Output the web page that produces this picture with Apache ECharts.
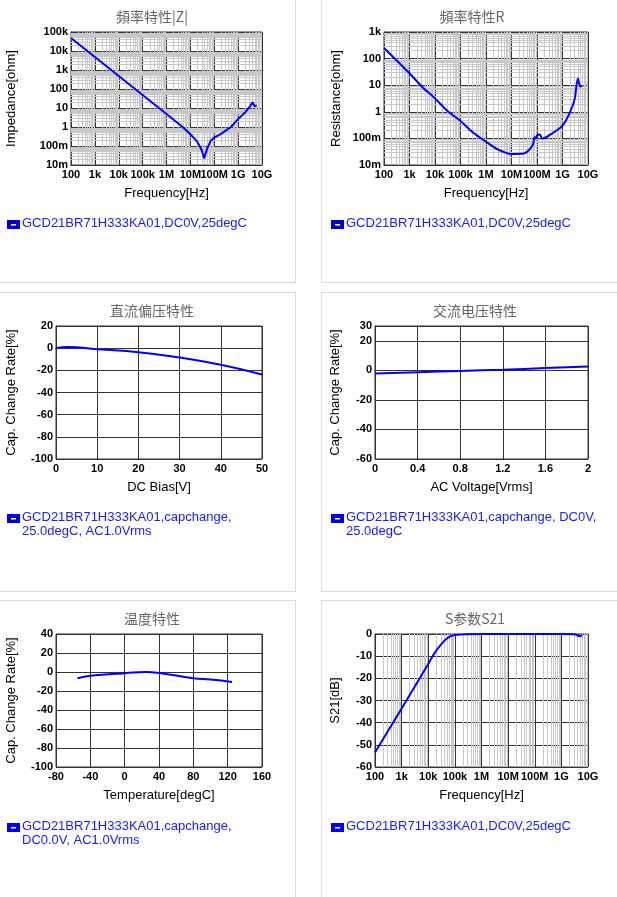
<!DOCTYPE html>
<html lang="zh">
<head>
<meta charset="UTF-8">
<title>GCD21BR71H333KA01</title>
<script src="https://cdn.jsdelivr.net/npm/echarts@6/dist/echarts.min.js"></script>
<style>
  body { margin: 0; background: #fff; font-family: Arial, "Liberation Sans", sans-serif; }
  .box { position: absolute; border: 1px solid #ddd; }
  #main { position: absolute; left: 0; top: 0; width: 617px; height: 897px; }
</style>
</head>
<body>
<div class="box" style="left:-2px;top:-2px;width:296px;height:283px"></div>
<div class="box" style="left:321px;top:-2px;width:300px;height:283px"></div>
<div class="box" style="left:-2px;top:292px;width:296px;height:298px"></div>
<div class="box" style="left:321px;top:292px;width:300px;height:298px"></div>
<div class="box" style="left:-2px;top:600px;width:296px;height:300px"></div>
<div class="box" style="left:321px;top:600px;width:300px;height:300px"></div>
<div id="main"></div>
<script>
  // 頻率特性 |Z|
  var zFreq = [100, 1e3, 1e4, 1e5, 1e6, 5e6, 1e7, 2e7, 3e7, 3.8e7, 5e7, 7e7, 1e8, 2e8, 5e8, 1e9, 2e9, 3e9, 4e9, 5e9, 6e9];
  var zVal  = [48000, 4800, 480, 48, 4.8, 0.95, 0.42, 0.16, 0.06, 0.022, 0.07, 0.18, 0.28, 0.45, 1.0, 2.6, 6, 11, 20, 12, 14];
  // 頻率特性 R
  var rFreq = [100, 1e3, 3e3, 1e4, 3e4, 1e5, 3e5, 1e6, 3e6, 1e7, 3e7, 5e7, 7e7, 8e7, 9e7, 1e8, 1.3e8, 1.6e8, 3e8, 1e9, 2e9, 3e9, 4e9, 5e9, 6e9];
  var rVal  = [250, 28, 9, 3.2, 1.1, 0.45, 0.17, 0.075, 0.038, 0.026, 0.027, 0.038, 0.06, 0.11, 0.1, 0.13, 0.14, 0.1, 0.13, 0.3, 1, 3, 18, 9, 9.5];
  // 直流偏压特性
  var dcBias = [0, 3, 10, 20, 30, 40, 50];
  var dcRate = [0.2, 1, -1, -3.6, -8.4, -15, -23.8];
  // 交流电压特性
  var acVolt = [0, 0.4, 0.8, 1.2, 1.6, 2];
  var acRate = [-2.2, -1.3, -0.4, 0.4, 1.5, 2.6];
  // 温度特性
  var temps    = [-55, -40, 0, 25, 40, 80, 100, 125];
  var tempRate = [-6.5, -4, -1.3, 0, -1, -6.5, -8, -10.5];
  // S参数S21
  var sFreq = [100, 1e3, 1e4, 2e4, 5e4, 1e5, 1e6, 1e8, 1e9, 3e9, 5e9, 6e9];
  var sVal  = [-53.5, -33.6, -13.5, -7.5, -2, -0.5, 0, 0, 0, -0.1, -1, -0.5];

  var legend1 = 'GCD21BR71H333KA01,DC0V,25degC';
  var legendDc = ['GCD21BR71H333KA01,capchange,', '25.0degC, AC1.0Vrms'];
  var legendAc = ['GCD21BR71H333KA01,capchange, DC0V,', '25.0degC'];
  var legendT = ['GCD21BR71H333KA01,capchange,', 'DC0.0V, AC1.0Vrms'];

  function pairs(xs, ys) { return xs.map(function (x, i) { return [x, ys[i]]; }); }

  function logLabel(v) {
    var map = {1e-2: '10m', 1e-1: '100m', 1: '1', 10: '10', 100: '100', 1e3: '1k', 1e4: '10k', 1e5: '100k',
      1e6: '1M', 1e7: '10M', 1e8: '100M', 1e9: '1G', 1e10: '10G'};
    for (var k in map) { if (Math.abs(Math.log10(v) - Math.log10(+k)) < 1e-6) return map[k]; }
    return '';
  }

  // minor grid lines for log axes: 2..9 in every decade
  function minorLines(axis, lo, hi) {
    var out = [];
    for (var d = lo; d < hi; d *= 10) {
      for (var m = 2; m <= 9; m++) { var o = {}; o[axis] = d * m; out.push(o); }
    }
    return out;
  }

  var labelStyle = { color: '#000', fontSize: 11, fontWeight: 'bold', fontFamily: 'Arial' };
  var nameStyle = { color: '#000', fontSize: 13, fontFamily: 'Arial' };
  var split = { show: true, lineStyle: { color: '#333', width: 1 } };

  function xAx(i, opt) {
    return Object.assign({
      gridIndex: i, nameLocation: 'middle', nameGap: 22, nameTextStyle: nameStyle,
      axisLabel: Object.assign({ margin: 4 }, labelStyle), axisTick: { show: false },
      axisLine: { lineStyle: { color: '#333' } }, splitLine: split
    }, opt);
  }
  function yAx(i, opt) {
    return Object.assign({
      gridIndex: i, nameLocation: 'middle', nameTextStyle: nameStyle,
      axisLabel: Object.assign({ margin: 3 }, labelStyle), axisTick: { show: false },
      axisLine: { show: true, lineStyle: { color: '#333' } }, splitLine: split
    }, opt);
  }
  function line(i, data, extra) {
    return Object.assign({
      type: 'line', xAxisIndex: i, yAxisIndex: i, data: data, showSymbol: false,
      lineStyle: { color: '#0000ff', width: 2 }, itemStyle: { color: '#0000ff' }, z: 5
    }, extra || {});
  }
  function minorSeries(i, xLo, xHi, yLo, yHi) {
    var d = minorLines('xAxis', xLo, xHi);
    if (yLo) d = d.concat(minorLines('yAxis', yLo, yHi));
    return {
      type: 'line', xAxisIndex: i, yAxisIndex: i, data: [], silent: true, z: 1,
      markLine: { symbol: 'none', silent: true, label: { show: false }, animation: false,
        lineStyle: { color: '#c8c8c8', width: 1, type: 'solid' }, data: d }
    };
  }

  var grids = [
    { left: 71, top: 32, width: 191, height: 133 },
    { left: 384, top: 32, width: 204, height: 133 },
    { left: 56, top: 326, width: 206, height: 133 },
    { left: 375, top: 326, width: 213, height: 133 },
    { left: 56, top: 634, width: 206, height: 133 },
    { left: 375, top: 634, width: 213, height: 133 }
  ].map(function (g) { return Object.assign({ show: true, borderColor: '#333', borderWidth: 1 }, g); });

  var titleStyle = { color: '#666', fontSize: 14, fontWeight: 'normal', fontFamily: 'Noto Sans CJK SC' };
  var titles = [
    ['頻率特性|Z|', 147, 5], ['頻率特性R', 467, 5], ['直流偏压特性', 147, 299],
    ['交流电压特性', 470, 299], ['温度特性', 147, 607], ['S参数S21', 470, 607]
  ].map(function (t) { return { text: t[0], left: t[1], top: t[2], textAlign: 'center', textStyle: titleStyle }; });

  function legendGraphic(x, y, lines) {
    var els = [
      { type: 'rect', left: x, top: y + 3, shape: { width: 13, height: 9 }, style: { fill: '#0000ee' } },
      { type: 'rect', left: x + 4, top: y + 7, shape: { width: 5, height: 1.5 }, style: { fill: '#fff' } }
    ];
    lines.forEach(function (s, k) {
      els.push({ type: 'text', left: x + 15, top: y + k * 14,
        style: { text: s, fill: '#1a1aff', font: '13px Arial' } });
    });
    return els;
  }

  var chart = echarts.init(document.getElementById('main'));
  chart.setOption({
    animation: false,
    title: titles,
    grid: grids,
    xAxis: [
      xAx(0, { type: 'log', min: 100, max: 1e10, splitNumber: 8, name: 'Frequency[Hz]', axisLabel: Object.assign({ margin: 4, formatter: logLabel }, labelStyle) }),
      xAx(1, { type: 'log', min: 100, max: 1e10, splitNumber: 8, name: 'Frequency[Hz]', axisLabel: Object.assign({ margin: 4, formatter: logLabel }, labelStyle) }),
      xAx(2, { type: 'value', min: 0, max: 50, interval: 10, name: 'DC Bias[V]' }),
      xAx(3, { type: 'value', min: 0, max: 2, interval: 0.4, name: 'AC Voltage[Vrms]' }),
      xAx(4, { type: 'value', min: -80, max: 160, interval: 40, name: 'Temperature[degC]' }),
      xAx(5, { type: 'log', min: 100, max: 1e10, splitNumber: 8, name: 'Frequency[Hz]', axisLabel: Object.assign({ margin: 4, formatter: logLabel }, labelStyle) })
    ],
    yAxis: [
      yAx(0, { type: 'log', min: 0.01, max: 1e5, splitNumber: 7, name: 'Impedance[ohm]', nameGap: 53, axisLabel: Object.assign({ margin: 3, formatter: logLabel }, labelStyle) }),
      yAx(1, { type: 'log', min: 0.01, max: 1000, splitNumber: 5, name: 'Resistance[ohm]', nameGap: 41, axisLabel: Object.assign({ margin: 3, formatter: logLabel }, labelStyle) }),
      yAx(2, { type: 'value', min: -100, max: 20, interval: 20, name: 'Cap. Change Rate[%]', nameGap: 38 }),
      yAx(3, { type: 'value', min: -60, max: 30, interval: 20, name: 'Cap. Change Rate[%]', nameGap: 33 }),
      yAx(4, { type: 'value', min: -100, max: 40, interval: 20, name: 'Cap. Change Rate[%]', nameGap: 38 }),
      yAx(5, { type: 'value', min: -60, max: 0, interval: 10, name: 'S21[dB]', nameGap: 33 })
    ],
    series: [
      minorSeries(0, 100, 1e10, 0.01, 1e5),
      minorSeries(1, 100, 1e10, 0.01, 1000),
      minorSeries(5, 100, 1e10),
      line(0, pairs(zFreq, zVal)),
      line(1, pairs(rFreq, rVal), { smooth: 0.3 }),
      line(2, pairs(dcBias, dcRate), { smooth: true }),
      line(3, pairs(acVolt, acRate), { smooth: true }),
      line(4, pairs(temps, tempRate), { smooth: true }),
      line(5, pairs(sFreq, sVal), { smooth: 0.4 })
    ],
    graphic: [].concat(
      legendGraphic(7, 217, [legend1]),
      legendGraphic(331, 217, [legend1]),
      legendGraphic(7, 511, legendDc),
      legendGraphic(331, 511, legendAc),
      legendGraphic(7, 820, legendT),
      legendGraphic(331, 820, [legend1])
    )
  });
</script>
</body>
</html>
